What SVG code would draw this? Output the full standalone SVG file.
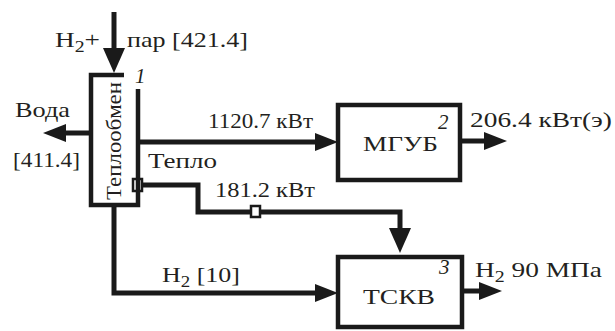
<svg xmlns="http://www.w3.org/2000/svg" width="615" height="331" viewBox="0 0 615 331">
  <style>
    .box { fill: #fff; stroke: #1a1a1a; stroke-width: 4.5; }
    .line { fill: none; stroke: #1a1a1a; stroke-width: 5; }
    .port { fill: #fff; stroke: #1a1a1a; stroke-width: 2.5; }
    .t { font-size: 22px; fill: #231f20; }
    .num { font-style: italic; font-size: 21px; fill: #231f20; }
    .sub { font-size: 16px; }
  </style>
  <defs>
    <marker id="arr" markerUnits="userSpaceOnUse" markerWidth="24" markerHeight="18" refX="13" refY="9" orient="auto">
      <path d="M0,0 L23,9 L0,18 z" fill="#1a1a1a"/>
    </marker>
    <marker id="arr-big" markerUnits="userSpaceOnUse" markerWidth="26" markerHeight="22" refX="14" refY="11" orient="auto">
      <path d="M0,0 L25,11 L0,22 z" fill="#1a1a1a"/>
    </marker>
  </defs>

  <!-- connectors -->
  <g id="connectors">
    <!-- feed into heat exchanger -->
    <path class="line" d="M114,12 V62" marker-end="url(#arr-big)"/>
    <!-- water out -->
    <path class="line" d="M91,133 H53" marker-end="url(#arr)"/>
    <!-- power to MGUB -->
    <path class="line" d="M138,142 H328" marker-end="url(#arr)"/>
    <!-- electric output -->
    <path class="line" d="M461,141 H497" marker-end="url(#arr)"/>
    <!-- heat to TSKV -->
    <path class="line" d="M142,185 H198 V212 H400 V242" marker-end="url(#arr-big)"/>
    <!-- hydrogen to TSKV -->
    <path class="line" d="M114,205 V293 H328" marker-end="url(#arr)"/>
    <!-- compressed hydrogen output -->
    <path class="line" d="M462,291 H492" marker-end="url(#arr)"/>
    <!-- heat ports -->
    <rect class="port" x="133" y="179" width="9" height="12"/>
    <rect class="port" x="251" y="206" width="9" height="11"/>
  </g>

  <g font-family="'Liberation Serif', 'Times New Roman', serif">
    <!-- 1: heat exchanger -->
    <g id="node-heat-exchanger">
      <path class="line" style="stroke-width:4.5" d="M124,75 H91 V205 H138 V89"/>
      <text class="t" transform="translate(121,141) rotate(-90)" text-anchor="middle" textLength="118" lengthAdjust="spacingAndGlyphs">Теплообмен</text>
      <text class="num" x="135" y="83">1</text>
    </g>

    <!-- 2: MGUB -->
    <g id="node-mgub">
      <rect class="box" x="338" y="105" width="122" height="75"/>
      <text class="t" x="363" y="151" textLength="75" lengthAdjust="spacingAndGlyphs">МГУБ</text>
      <text class="num" x="438" y="129">2</text>
    </g>

    <!-- 3: TSKV -->
    <g id="node-tskv">
      <rect class="box" x="338" y="257" width="124" height="70"/>
      <text class="t" x="363" y="304" textLength="72" lengthAdjust="spacingAndGlyphs">ТСКВ</text>
      <text class="num" x="439" y="274">3</text>
    </g>

    <!-- flow labels -->
    <g id="labels">
      <text class="t" x="55" y="47" textLength="45" lengthAdjust="spacingAndGlyphs">H<tspan class="sub" dy="5">2</tspan><tspan dy="-5">+</tspan></text>
      <text class="t" x="127" y="47" textLength="121" lengthAdjust="spacingAndGlyphs">пар [421.4]</text>
      <text class="t" x="15" y="117" textLength="55" lengthAdjust="spacingAndGlyphs">Вода</text>
      <text class="t" x="13" y="167" textLength="67" lengthAdjust="spacingAndGlyphs">[411.4]</text>
      <text class="t" x="208" y="128" textLength="105" lengthAdjust="spacingAndGlyphs">1120.7 кВт</text>
      <text class="t" x="148" y="168" textLength="69" lengthAdjust="spacingAndGlyphs">Тепло</text>
      <text class="t" x="215" y="197" textLength="100" lengthAdjust="spacingAndGlyphs">181.2 кВт</text>
      <text class="t" x="470" y="127" textLength="142" lengthAdjust="spacingAndGlyphs">206.4 кВт(э)</text>
      <text class="t" x="162" y="282" textLength="78" lengthAdjust="spacingAndGlyphs">H<tspan class="sub" dy="5">2</tspan><tspan dy="-5"> [10]</tspan></text>
      <text class="t" x="475" y="277" textLength="127" lengthAdjust="spacingAndGlyphs">H<tspan class="sub" dy="5">2</tspan><tspan dy="-5"> 90 МПа</tspan></text>
    </g>
  </g>
</svg>
